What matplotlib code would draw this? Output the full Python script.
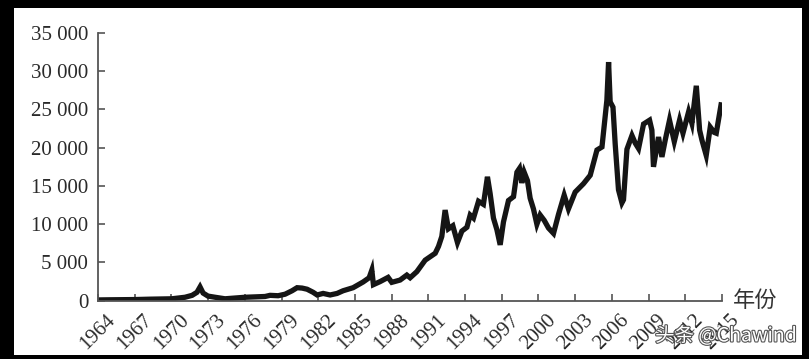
import matplotlib
matplotlib.use("Agg")
import matplotlib.pyplot as plt
from matplotlib.patches import Rectangle
from matplotlib.ticker import FuncFormatter
import matplotlib.patheffects as pe

# index level (x in the chart's own year units)
years = [1964.00, 1964.98, 1967.03, 1968.25, 1970.03, 1971.11, 1971.69, 1972.09,
         1972.34, 1972.59, 1972.99, 1973.57, 1974.38, 1975.20, 1976.02, 1976.84,
         1977.65, 1978.06, 1978.72, 1979.29, 1979.86, 1980.27, 1980.68, 1981.09,
         1981.58, 1981.91, 1982.40, 1982.97, 1983.54, 1984.03, 1984.85, 1985.67,
         1986.16, 1986.38, 1986.51, 1987.06, 1987.71, 1988.01, 1988.69, 1989.24,
         1989.51, 1990.06, 1990.74, 1991.15, 1991.56, 1991.83, 1992.10, 1992.37,
         1992.64, 1993.00, 1993.38, 1993.74, 1994.15, 1994.42, 1994.69, 1995.10,
         1995.50, 1995.83, 1996.05, 1996.32, 1996.60, 1996.87, 1997.14, 1997.55,
         1997.96, 1998.24, 1998.45, 1998.64, 1998.83, 1999.10, 1999.32, 1999.59,
         1999.87, 2000.14, 2000.47, 2000.82, 2001.23, 2001.64, 2002.10, 2002.45,
         2003.00, 2003.68, 2004.23, 2004.78, 2005.19, 2005.59, 2005.73, 2005.86,
         2006.09, 2006.27, 2006.54, 2006.82, 2006.95, 2007.23, 2007.64, 2007.91,
         2008.18, 2008.59, 2009.08, 2009.27, 2009.40, 2009.81, 2010.09, 2010.36,
         2010.71, 2011.10, 2011.53, 2011.81, 2012.27, 2012.54, 2012.90, 2013.17,
         2013.36, 2013.71, 2014.04, 2014.37, 2014.53, 2014.92]
index = [100, 120, 150, 200, 250, 450, 700, 1100,
         1800, 1000, 600, 450, 250, 350, 450, 500,
         550, 700, 650, 850, 1300, 1700, 1650, 1500,
         1100, 750, 950, 750, 950, 1300, 1700, 2450,
         3000, 4000, 2100, 2500, 3050, 2400, 2700, 3350,
         3000, 3800, 5300, 5750, 6200, 7100, 8400, 11850,
         9400, 9800, 7600, 9100, 9600, 11200, 10800, 13000,
         12600, 16200, 14000, 10800, 9300, 7300, 10300, 13100,
         13600, 16800, 17300, 15400, 16800, 15700, 13400, 12000,
         10000, 11200, 10500, 9500, 8800, 11300, 13800, 12000,
         14200, 15300, 16400, 19700, 20100, 26200, 31200, 26000,
         25300, 20500, 14500, 12800, 13200, 19800, 21600, 20600,
         19900, 23100, 23600, 22300, 17500, 21400, 18800, 21000,
         23600, 20800, 23600, 21900, 24700, 23200, 28100, 22300,
         21000, 19000, 22700, 22000, 21900, 25600]

xticks = list(range(1964, 2016, 3))
yticks = list(range(0, 35001, 5000))

serif = "Liberation Serif"
cjk = ["Noto Sans CJK SC", "DejaVu Sans"]

fig = plt.figure(figsize=(8.09, 3.59), dpi=100)
fig.patch.set_facecolor("black")
fig.add_artist(Rectangle((14 / 809, 4 / 359), 788 / 809, 347 / 359,
                         transform=fig.transFigure, facecolor="white",
                         edgecolor="none", zorder=0))

ax = fig.add_axes([98 / 809, 58.3 / 359, 624 / 809, 267.7 / 359])
ax.set_facecolor("none")
ax.plot(years, index, color="#151515", lw=3.8, solid_joinstyle="miter")

ax.set_xlim(1964, 2015)
ax.set_ylim(0, 35000)
for s in ["top", "right"]:
    ax.spines[s].set_visible(False)
for s in ["left", "bottom"]:
    ax.spines[s].set_color("#555555")
    ax.spines[s].set_linewidth(1.3)

ax.set_xticks(xticks)
ax.set_yticks(yticks)
ax.yaxis.set_major_formatter(FuncFormatter(lambda v, p: f"{int(v):,}".replace(",", " ")))
ax.tick_params(direction="in", length=5, width=1.2, color="#555555",
               labelcolor="#2a2a2a", labelsize=15, pad=7)
for t in ax.get_yticklabels():
    t.set_fontfamily(serif)
for t in ax.get_xticklabels():
    t.set_fontfamily(serif)
    t.set_rotation(45)
    t.set_ha("center")

ax.text(1.017, 0.0, "年份", transform=ax.transAxes, family=cjk, fontsize=16,
        color="#333333", ha="left", va="center")

fig.text(0.985, 0.035, "头条 @Chawind", family=cjk, fontsize=14, color="white",
         ha="right", va="bottom",
         path_effects=[pe.withStroke(linewidth=1.6, foreground="#555555")])

fig.savefig("out.png", dpi=100, facecolor=fig.get_facecolor())
